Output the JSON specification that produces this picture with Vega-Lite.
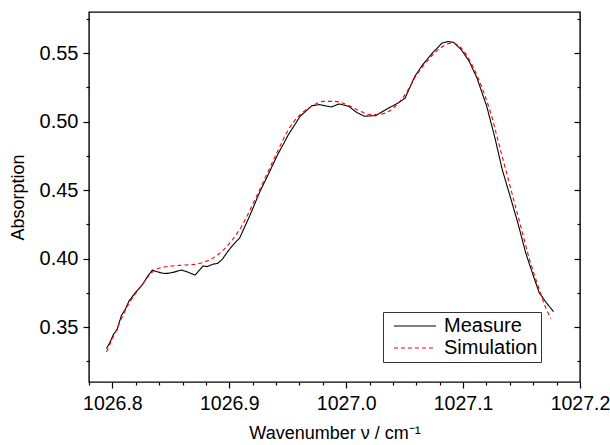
{
  "$schema": "https://vega.github.io/schema/vega-lite/v6.json",
  "width": 491,
  "height": 370,
  "autosize": "none",
  "padding": {"left": 89, "top": 12, "right": 30, "bottom": 63},
  "background": "white",
  "config": {
    "font": "Liberation Sans",
    "view": {"stroke": "#000", "strokeWidth": 1.4},
    "axis": {"grid": false, "domain": false, "tickColor": "#000", "labelColor": "#000", "titleColor": "#000", "titleFontWeight": "normal", "labelFlush": false, "labelOverlap": false, "labelBound": false, "tickWidth": 1.2}
  },
  "datasets": {
    "spectra": [
      {"series": "Measure", "wavenumber": 1026.795, "absorption": 0.3345},
      {"series": "Measure", "wavenumber": 1026.798, "absorption": 0.3390},
      {"series": "Measure", "wavenumber": 1026.801, "absorption": 0.3449},
      {"series": "Measure", "wavenumber": 1026.804, "absorption": 0.3480},
      {"series": "Measure", "wavenumber": 1026.8076, "absorption": 0.3583},
      {"series": "Measure", "wavenumber": 1026.811, "absorption": 0.3630},
      {"series": "Measure", "wavenumber": 1026.8143, "absorption": 0.3692},
      {"series": "Measure", "wavenumber": 1026.8193, "absorption": 0.3748},
      {"series": "Measure", "wavenumber": 1026.826, "absorption": 0.3813},
      {"series": "Measure", "wavenumber": 1026.830, "absorption": 0.3870},
      {"series": "Measure", "wavenumber": 1026.8342, "absorption": 0.3917},
      {"series": "Measure", "wavenumber": 1026.838, "absorption": 0.3905},
      {"series": "Measure", "wavenumber": 1026.841, "absorption": 0.3898},
      {"series": "Measure", "wavenumber": 1026.844, "absorption": 0.3892},
      {"series": "Measure", "wavenumber": 1026.8475, "absorption": 0.3893},
      {"series": "Measure", "wavenumber": 1026.852, "absorption": 0.3900},
      {"series": "Measure", "wavenumber": 1026.8592, "absorption": 0.3917},
      {"series": "Measure", "wavenumber": 1026.8642, "absorption": 0.3903},
      {"series": "Measure", "wavenumber": 1026.8708, "absorption": 0.3880},
      {"series": "Measure", "wavenumber": 1026.8775, "absorption": 0.3947},
      {"series": "Measure", "wavenumber": 1026.881, "absorption": 0.3942},
      {"series": "Measure", "wavenumber": 1026.8858, "absorption": 0.3959},
      {"series": "Measure", "wavenumber": 1026.890, "absorption": 0.3965},
      {"series": "Measure", "wavenumber": 1026.894, "absorption": 0.3995},
      {"series": "Measure", "wavenumber": 1026.8985, "absorption": 0.4050},
      {"series": "Measure", "wavenumber": 1026.9024, "absorption": 0.4092},
      {"series": "Measure", "wavenumber": 1026.909, "absorption": 0.4153},
      {"series": "Measure", "wavenumber": 1026.9174, "absorption": 0.4311},
      {"series": "Measure", "wavenumber": 1026.9257, "absorption": 0.4480},
      {"series": "Measure", "wavenumber": 1026.934, "absorption": 0.4626},
      {"series": "Measure", "wavenumber": 1026.9407, "absorption": 0.4748},
      {"series": "Measure", "wavenumber": 1026.9506, "absorption": 0.4905},
      {"series": "Measure", "wavenumber": 1026.9606, "absorption": 0.5039},
      {"series": "Measure", "wavenumber": 1026.9706, "absorption": 0.5116},
      {"series": "Measure", "wavenumber": 1026.9772, "absorption": 0.5124},
      {"series": "Measure", "wavenumber": 1026.9872, "absorption": 0.5107},
      {"series": "Measure", "wavenumber": 1026.9938, "absorption": 0.5129},
      {"series": "Measure", "wavenumber": 1027.0022, "absorption": 0.5112},
      {"series": "Measure", "wavenumber": 1027.0088, "absorption": 0.5068},
      {"series": "Measure", "wavenumber": 1027.0155, "absorption": 0.5039},
      {"series": "Measure", "wavenumber": 1027.0254, "absorption": 0.5044},
      {"series": "Measure", "wavenumber": 1027.0338, "absorption": 0.5087},
      {"series": "Measure", "wavenumber": 1027.0454, "absorption": 0.5141},
      {"series": "Measure", "wavenumber": 1027.0504, "absorption": 0.5172},
      {"series": "Measure", "wavenumber": 1027.0587, "absorption": 0.5330},
      {"series": "Measure", "wavenumber": 1027.0654, "absorption": 0.5415},
      {"series": "Measure", "wavenumber": 1027.0737, "absorption": 0.5500},
      {"series": "Measure", "wavenumber": 1027.082, "absorption": 0.5573},
      {"series": "Measure", "wavenumber": 1027.087, "absorption": 0.5585},
      {"series": "Measure", "wavenumber": 1027.092, "absorption": 0.5578},
      {"series": "Measure", "wavenumber": 1027.0986, "absorption": 0.5524},
      {"series": "Measure", "wavenumber": 1027.1053, "absorption": 0.5439},
      {"series": "Measure", "wavenumber": 1027.1119, "absorption": 0.5318},
      {"series": "Measure", "wavenumber": 1027.1202, "absorption": 0.5112},
      {"series": "Measure", "wavenumber": 1027.1269, "absorption": 0.4893},
      {"series": "Measure", "wavenumber": 1027.1335, "absorption": 0.4650},
      {"series": "Measure", "wavenumber": 1027.1402, "absorption": 0.4456},
      {"series": "Measure", "wavenumber": 1027.1468, "absorption": 0.4262},
      {"series": "Measure", "wavenumber": 1027.1535, "absorption": 0.4044},
      {"series": "Measure", "wavenumber": 1027.1601, "absorption": 0.3874},
      {"series": "Measure", "wavenumber": 1027.1651, "absorption": 0.3752},
      {"series": "Measure", "wavenumber": 1027.1701, "absorption": 0.3692},
      {"series": "Measure", "wavenumber": 1027.1734, "absorption": 0.3655},
      {"series": "Measure", "wavenumber": 1027.1774, "absorption": 0.3614},
      {"series": "Simulation", "wavenumber": 1026.795, "absorption": 0.3320},
      {"series": "Simulation", "wavenumber": 1026.8043, "absorption": 0.3498},
      {"series": "Simulation", "wavenumber": 1026.8143, "absorption": 0.3675},
      {"series": "Simulation", "wavenumber": 1026.8243, "absorption": 0.3796},
      {"series": "Simulation", "wavenumber": 1026.8342, "absorption": 0.3903},
      {"series": "Simulation", "wavenumber": 1026.8442, "absorption": 0.3939},
      {"series": "Simulation", "wavenumber": 1026.8575, "absorption": 0.3951},
      {"series": "Simulation", "wavenumber": 1026.8708, "absorption": 0.3959},
      {"series": "Simulation", "wavenumber": 1026.8808, "absorption": 0.3983},
      {"series": "Simulation", "wavenumber": 1026.8908, "absorption": 0.4032},
      {"series": "Simulation", "wavenumber": 1026.9007, "absorption": 0.4117},
      {"series": "Simulation", "wavenumber": 1026.9107, "absorption": 0.4238},
      {"series": "Simulation", "wavenumber": 1026.9207, "absorption": 0.4408},
      {"series": "Simulation", "wavenumber": 1026.9307, "absorption": 0.4590},
      {"series": "Simulation", "wavenumber": 1026.9407, "absorption": 0.4772},
      {"series": "Simulation", "wavenumber": 1026.9506, "absorption": 0.4942},
      {"series": "Simulation", "wavenumber": 1026.9606, "absorption": 0.5051},
      {"series": "Simulation", "wavenumber": 1026.9706, "absorption": 0.5112},
      {"series": "Simulation", "wavenumber": 1026.9805, "absorption": 0.5148},
      {"series": "Simulation", "wavenumber": 1026.9905, "absorption": 0.5148},
      {"series": "Simulation", "wavenumber": 1027.0005, "absorption": 0.5124},
      {"series": "Simulation", "wavenumber": 1027.0105, "absorption": 0.5083},
      {"series": "Simulation", "wavenumber": 1027.0205, "absorption": 0.5051},
      {"series": "Simulation", "wavenumber": 1027.0304, "absorption": 0.5056},
      {"series": "Simulation", "wavenumber": 1027.0404, "absorption": 0.5100},
      {"series": "Simulation", "wavenumber": 1027.0504, "absorption": 0.5197},
      {"series": "Simulation", "wavenumber": 1027.0603, "absorption": 0.5342},
      {"series": "Simulation", "wavenumber": 1027.0703, "absorption": 0.5451},
      {"series": "Simulation", "wavenumber": 1027.0803, "absorption": 0.5536},
      {"series": "Simulation", "wavenumber": 1027.0903, "absorption": 0.5573},
      {"series": "Simulation", "wavenumber": 1027.0986, "absorption": 0.5536},
      {"series": "Simulation", "wavenumber": 1027.1069, "absorption": 0.5427},
      {"series": "Simulation", "wavenumber": 1027.1152, "absorption": 0.5269},
      {"series": "Simulation", "wavenumber": 1027.1236, "absorption": 0.5063},
      {"series": "Simulation", "wavenumber": 1027.1319, "absorption": 0.4796},
      {"series": "Simulation", "wavenumber": 1027.1402, "absorption": 0.4529},
      {"series": "Simulation", "wavenumber": 1027.1485, "absorption": 0.4262},
      {"series": "Simulation", "wavenumber": 1027.1568, "absorption": 0.3995},
      {"series": "Simulation", "wavenumber": 1027.1651, "absorption": 0.3777},
      {"series": "Simulation", "wavenumber": 1027.1701, "absorption": 0.3655},
      {"series": "Simulation", "wavenumber": 1027.1751, "absorption": 0.3563}
    ]
  },
  "data": {"name": "spectra"},
  "layer": [
    {
      "transform": [{"filter": "datum.series === 'Measure'"}],
      "mark": {"type": "line", "strokeWidth": 1.1, "interpolate": "linear"},
      "encoding": {
        "x": {
          "field": "wavenumber", "type": "quantitative",
          "scale": {"domain": [1026.78, 1027.2], "nice": false, "zero": false},
          "axis": {
            "orient": "bottom",
            "values": [1026.78, 1026.8, 1026.82, 1026.84, 1026.86, 1026.88, 1026.9, 1026.92, 1026.94, 1026.96, 1026.98, 1027.0, 1027.02, 1027.04, 1027.06, 1027.08, 1027.1, 1027.12, 1027.14, 1027.16, 1027.18, 1027.2],
            "labelExpr": "abs(datum.value*10 - round(datum.value*10)) < 0.01 ? format(datum.value, '.1f') : ''",
            "tickSize": {"condition": {"test": "abs(datum.value*10 - round(datum.value*10)) < 0.01", "value": 6}, "value": 3},
            "labelFontSize": 19.5,
            "labelPadding": 6,
            "title": "Wavenumber ν / cm⁻¹",
            "titleFontSize": 18,
            "titlePadding": 12
          }
        },
        "y": {
          "field": "absorption", "type": "quantitative",
          "scale": {"domain": [0.31, 0.58], "nice": false, "zero": false},
          "axis": {
            "orient": "left",
            "values": [0.325, 0.35, 0.375, 0.4, 0.425, 0.45, 0.475, 0.5, 0.525, 0.55, 0.575],
            "labelExpr": "abs(datum.value*20 - round(datum.value*20)) < 0.01 ? format(datum.value, '.2f') : ''",
            "tickSize": {"condition": {"test": "abs(datum.value*20 - round(datum.value*20)) < 0.01", "value": 6}, "value": 3},
            "labelFontSize": 20,
            "labelPadding": 5,
            "title": "Absorption",
            "titleFontSize": 18,
            "titlePadding": 12
          }
        },
        "color": {
          "field": "series", "type": "nominal",
          "scale": {"domain": ["Measure", "Simulation"], "range": ["#000000", "#ff0000"]},
          "legend": {
            "orient": "none", "legendX": 294, "legendY": 300,
            "title": null,
            "strokeColor": "#333", "fillColor": "white",
            "padding": 3, "symbolType": "stroke", "symbolSize": 1764,
            "symbolStrokeWidth": 1.1, "symbolOffset": 7, "labelOffset": 7,
            "labelFontSize": 20, "labelColor": "#000",
            "clipHeight": 22, "rowPadding": 0
          }
        },
        "strokeDash": {
          "field": "series", "type": "nominal",
          "scale": {"domain": ["Measure", "Simulation"], "range": [[1, 0], [4, 3]]},
          "legend": {
            "orient": "none", "legendX": 294, "legendY": 300,
            "title": null,
            "strokeColor": "#333", "fillColor": "white",
            "padding": 3, "symbolType": "stroke", "symbolSize": 1764,
            "symbolStrokeWidth": 1.1, "symbolOffset": 7, "labelOffset": 7,
            "labelFontSize": 20, "labelColor": "#000",
            "clipHeight": 22, "rowPadding": 0
          }
        }
      }
    },
    {
      "transform": [{"filter": "datum.series === 'Simulation'"}],
      "mark": {"type": "line", "strokeWidth": 1.1, "interpolate": "monotone"},
      "encoding": {
        "x": {
          "field": "wavenumber", "type": "quantitative",
          "axis": {"orient": "top", "ticks": false, "labels": false, "title": null, "domain": false}
        },
        "y": {
          "field": "absorption", "type": "quantitative",
          "axis": {
            "orient": "right",
            "values": [0.325, 0.35, 0.375, 0.4, 0.425, 0.45, 0.475, 0.5, 0.525, 0.55, 0.575],
            "labels": false,
            "title": null,
            "tickSize": {"condition": {"test": "abs(datum.value*20 - round(datum.value*20)) < 0.01", "value": -6}, "value": -3}
          }
        },
        "color": {"field": "series", "type": "nominal"},
        "strokeDash": {"field": "series", "type": "nominal"}
      }
    }
  ],
  "resolve": {"axis": {"x": "independent", "y": "independent"}}
}
